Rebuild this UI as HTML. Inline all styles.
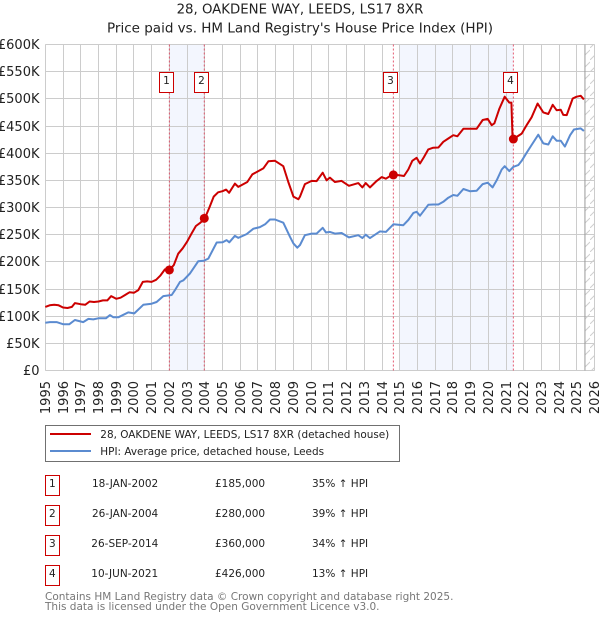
<!DOCTYPE html>
<html>
<head>
<meta charset="utf-8">
<style>
html,body{margin:0;padding:0;background:#fff;}
svg{display:block;font-family:"DejaVu Sans","Liberation Sans",sans-serif;}
</style>
</head>
<body>
<svg id="chart" width="600" height="620" viewBox="0 0 600 620" xmlns="http://www.w3.org/2000/svg">
<defs>
<pattern id="hatch" width="10" height="12" patternUnits="userSpaceOnUse">
<path d="M0 12 L10 2" stroke="#cfcfcf" stroke-width="1" fill="none"/>
</pattern>
</defs>
<text x="300" y="13.5" text-anchor="middle" font-size="13.3" fill="#222">28, OAKDENE WAY, LEEDS, LS17 8XR</text>
<text x="300" y="32.5" text-anchor="middle" font-size="13.5" fill="#222">Price paid vs. HM Land Registry's House Price Index (HPI)</text>
<g id="plot"></g>

<g>
<rect x="45.5" y="425.5" width="354" height="36" fill="#fff" stroke="#707070" stroke-width="1"/>
<line x1="50" x2="91" y1="434" y2="434" stroke="#cc0000" stroke-width="2"/>
<text x="100.3" y="438" font-size="10.45" fill="#222">28, OAKDENE WAY, LEEDS, LS17 8XR (detached house)</text>
<line x1="50" x2="91" y1="451" y2="451" stroke="#5b8bd0" stroke-width="2"/>
<text x="100.3" y="455" font-size="10.45" fill="#222">HPI: Average price, detached house, Leeds</text>
</g>

<g font-size="10.5" fill="#222">
<g>
<rect x="45.5" y="475.5" width="14" height="20" fill="#fff" stroke="#cc0000"/>
<text x="52.3" y="487" text-anchor="middle">1</text>
<text x="92" y="487">18-JAN-2002</text>
<text x="215" y="487">£185,000</text>
<text x="312" y="487">35% ↑ HPI</text>
</g>
<g>
<rect x="45.5" y="505.5" width="14" height="20" fill="#fff" stroke="#cc0000"/>
<text x="52.3" y="517" text-anchor="middle">2</text>
<text x="92" y="517">26-JAN-2004</text>
<text x="215" y="517">£280,000</text>
<text x="312" y="517">39% ↑ HPI</text>
</g>
<g>
<rect x="45.5" y="535.5" width="14" height="20" fill="#fff" stroke="#cc0000"/>
<text x="52.3" y="547" text-anchor="middle">3</text>
<text x="91.3" y="547">26-SEP-2014</text>
<text x="215" y="547">£360,000</text>
<text x="312" y="547">34% ↑ HPI</text>
</g>
<g>
<rect x="45.5" y="565.5" width="14" height="20" fill="#fff" stroke="#cc0000"/>
<text x="52.3" y="577" text-anchor="middle">4</text>
<text x="91.3" y="577">10-JUN-2021</text>
<text x="215" y="577">£426,000</text>
<text x="312" y="577">13% ↑ HPI</text>
</g>
</g>
<text x="45" y="600" font-size="10.5" fill="#777">Contains HM Land Registry data © Crown copyright and database right 2025.</text>
<text x="45" y="610" font-size="10.5" fill="#777">This data is licensed under the Open Government Licence v3.0.</text>
</svg>
<script>
var yearTicks = [1995,1996,1997,1998,1999,2000,2001,2002,2003,2004,2005,2006,2007,2008,2009,2010,2011,2012,2013,2014,2015,2016,2017,2018,2019,2020,2021,2022,2023,2024,2025,2026];
var valueTicks = [0,50,100,150,200,250,300,350,400,450,500,550,600];
var valueLabels = ['£0','£50K','£100K','£150K','£200K','£250K','£300K','£350K','£400K','£450K','£500K','£550K','£600K'];

var priceDates = [1995,1995.25,1995.5,1995.75,1996,1996.25,1996.5,1996.67,1997,1997.25,1997.5,1997.75,1998,1998.25,1998.5,1998.72,1999,1999.25,1999.5,1999.75,2000,2000.25,2000.5,2000.75,2001,2001.25,2001.5,2001.75,2002,2002.25,2002.5,2002.75,2003,2003.25,2003.5,2003.75,2004,2004.25,2004.5,2004.75,2005,2005.2,2005.37,2005.7,2005.89,2006.4,2006.68,2007.3,2007.59,2007.96,2008.43,2008.71,2009,2009.28,2009.37,2009.65,2010.03,2010.31,2010.65,2010.87,2011.06,2011.34,2011.72,2012.13,2012.66,2012.89,2013.08,2013.32,2013.7,2013.98,2014.22,2014.6,2015.01,2015.24,2015.48,2015.71,2015.95,2016.14,2016.37,2016.61,2016.89,2017.18,2017.46,2017.74,2018.02,2018.25,2018.59,2018.96,2019.34,2019.68,2019.96,2020.19,2020.34,2020.62,2020.92,2021.18,2021.3,2021.37,2021.41,2021.88,2022.16,2022.44,2022.78,2023.1,2023.38,2023.63,2023.85,2024.08,2024.23,2024.42,2024.76,2024.98,2025.21,2025.39];
var priceValues = [117,120,121,120,116,115,117,124,122,121,127,126,127,129,129,137,132,134,139,144,143,148,163,164,163,167,175,186,185,194,215,225,237,252,266,272,280,299,320,328,330,333,327,344,338,347,361,372,385,386,376,347,320,315,320,343,349,348.5,364,350,355,347,349,340,345,337,345,337,349,356,353,361,359,358,370,386,391.5,381,393,407,410,410.5,421,427,433,431,445,445,445,461,463,451.5,455,482,504,493,493,425,426,436,451.5,466,491.5,475,472,489,479,480,470.5,470,500.6,504,505.5,499];

var hpiDates = [1995,1995.26,1995.64,1996.02,1996.35,1996.67,1997.14,1997.43,1997.71,1997.99,1998.42,1998.65,1998.84,1999.12,1999.68,2000.02,2000.53,2001,2001.28,2001.66,2002.13,2002.32,2002.6,2002.79,2003.16,2003.63,2003.95,2004.2,2004.67,2005.01,2005.23,2005.38,2005.7,2005.89,2006.36,2006.74,2007.11,2007.4,2007.68,2007.96,2008.43,2008.81,2009,2009.22,2009.37,2009.65,2010.03,2010.31,2010.65,2010.84,2011.06,2011.34,2011.72,2012.13,2012.66,2012.89,2013.08,2013.32,2013.88,2014.22,2014.64,2015.2,2015.48,2015.77,2015.95,2016.14,2016.61,2016.89,2017.18,2017.46,2017.74,2018.02,2018.25,2018.59,2018.96,2019.34,2019.68,2019.96,2020.24,2020.47,2020.75,2020.92,2021.18,2021.41,2021.69,2021.88,2022.16,2022.44,2022.82,2023.1,2023.38,2023.63,2023.85,2024.08,2024.32,2024.61,2024.83,2025.21,2025.39];
var hpiValues = [88,89,89,85,85,93,89,95,94,96,96,102,98,98,107,105,121,123,126,137,139,148,163,166,178.5,201,202,206,235.6,236,240,236,248,244,251,261,264,269,278,278,272,246,234,226,231,249,252,252,262.6,254,255,252,253,245,249,243.6,250,243.6,256,255,269,267.5,277,290,292,285,305,305.5,305.5,310.4,318,323,321.5,334,330,331,343,345.6,337,350,370,376,367,375,378,386,400.6,415,434,418,416,431,423,423,412,433,443.6,445.5,441];

var saleDates = [2002,2003.97,2014.64,2021.41];
var salePrices = [185,280,360,426];
var saleNumbers = ['1','2','3','4'];
var bandStarts = [2002,2015];
var bandEnds = [2003.97,2021.41];
var dataEndYear = 2025.45;

var NS = 'http://www.w3.org/2000/svg';
var plot = document.getElementById('plot');
var left = 45.3, right = 594.7, top_ = 44.5, bottom = 370.5;
function xScale(y){ return left + (y - 1995) * (right - left) / 31; }
function yScale(v){ return bottom - v * (bottom - top_) / 600; }
function gridX(y){ return Math.floor(xScale(y)) + 0.5; }
function gridY(v){ return Math.round(yScale(v) - 0.5) + 0.5; }
function make(tag, attrs, parent){
  var el = document.createElementNS(NS, tag);
  for (var k in attrs) el.setAttribute(k, attrs[k]);
  (parent || plot).appendChild(el);
  return el;
}
function linePath(dates, values){
  return dates.map(function(d, i){
    return (i ? 'L' : 'M') + xScale(d).toFixed(1) + ' ' + yScale(values[i]).toFixed(1);
  }).join(' ');
}

bandStarts.forEach(function(s, i){
  var band = make('rect', {x: xScale(s), y: top_, width: xScale(bandEnds[i]) - xScale(s), height: bottom - top_, fill: '#f3f6fe'});
  
  
});

var hatch = make('rect', {x: xScale(dataEndYear), y: top_, width: right - xScale(dataEndYear), height: bottom - top_, fill: 'url(#hatch)'});



yearTicks.forEach(function(y){
  var g = make('line', {x1: gridX(y), x2: gridX(y), y1: top_, y2: bottom, stroke: '#cccccc', 'stroke-width': 1});
  
  
  var tx = gridX(y) + 4.5;
  var t = make('text', {x: tx, y: 381, transform: 'rotate(-90 ' + tx + ' 381)', 'text-anchor': 'end', 'font-size': 13, fill: '#222'});
  t.textContent = String(y);
  
  
});
valueTicks.forEach(function(v, i){
  var g = make('line', {x1: left, x2: right, y1: gridY(v), y2: gridY(v), stroke: '#cccccc', 'stroke-width': 1});
  
  
  var t = make('text', {x: 39.5, y: gridY(v) + 4.5, 'text-anchor': 'end', 'font-size': 13, fill: '#222'});
  t.textContent = valueLabels[i];
  
  
});

var endLine = make('line', {x1: xScale(dataEndYear), x2: xScale(dataEndYear), y1: top_, y2: bottom, stroke: '#999999', 'stroke-width': 1});



saleDates.forEach(function(d){
  var l = make('line', {x1: xScale(d), x2: xScale(d), y1: top_, y2: bottom, stroke: '#e0405a', 'stroke-width': 1, 'stroke-dasharray': '2 2', opacity: 0.85});
  
  
});

var hpi = make('path', {d: linePath(hpiDates, hpiValues), fill: 'none', stroke: '#5b8bd0', 'stroke-width': 2, 'stroke-linejoin': 'round'});


var price = make('path', {d: linePath(priceDates, priceValues), fill: 'none', stroke: '#cc0000', 'stroke-width': 2, 'stroke-linejoin': 'round'});



saleDates.forEach(function(d, i){
  var c = make('circle', {cx: xScale(d), cy: yScale(salePrices[i]), r: 4.5, fill: '#cc0000'});
  
  
  var bx = xScale(d) - 10;
  var b = make('rect', {x: Math.floor(bx) + 0.5, y: 72.5, width: 14, height: 20, fill: '#fff', stroke: '#cc0000', 'stroke-width': 1});
  
  
  var t = make('text', {x: Math.floor(bx) + 7.5, y: 84, 'text-anchor': 'middle', 'font-size': 10.5, fill: '#222'});
  t.textContent = saleNumbers[i];
  
  
});
</script>
</body>
</html>
